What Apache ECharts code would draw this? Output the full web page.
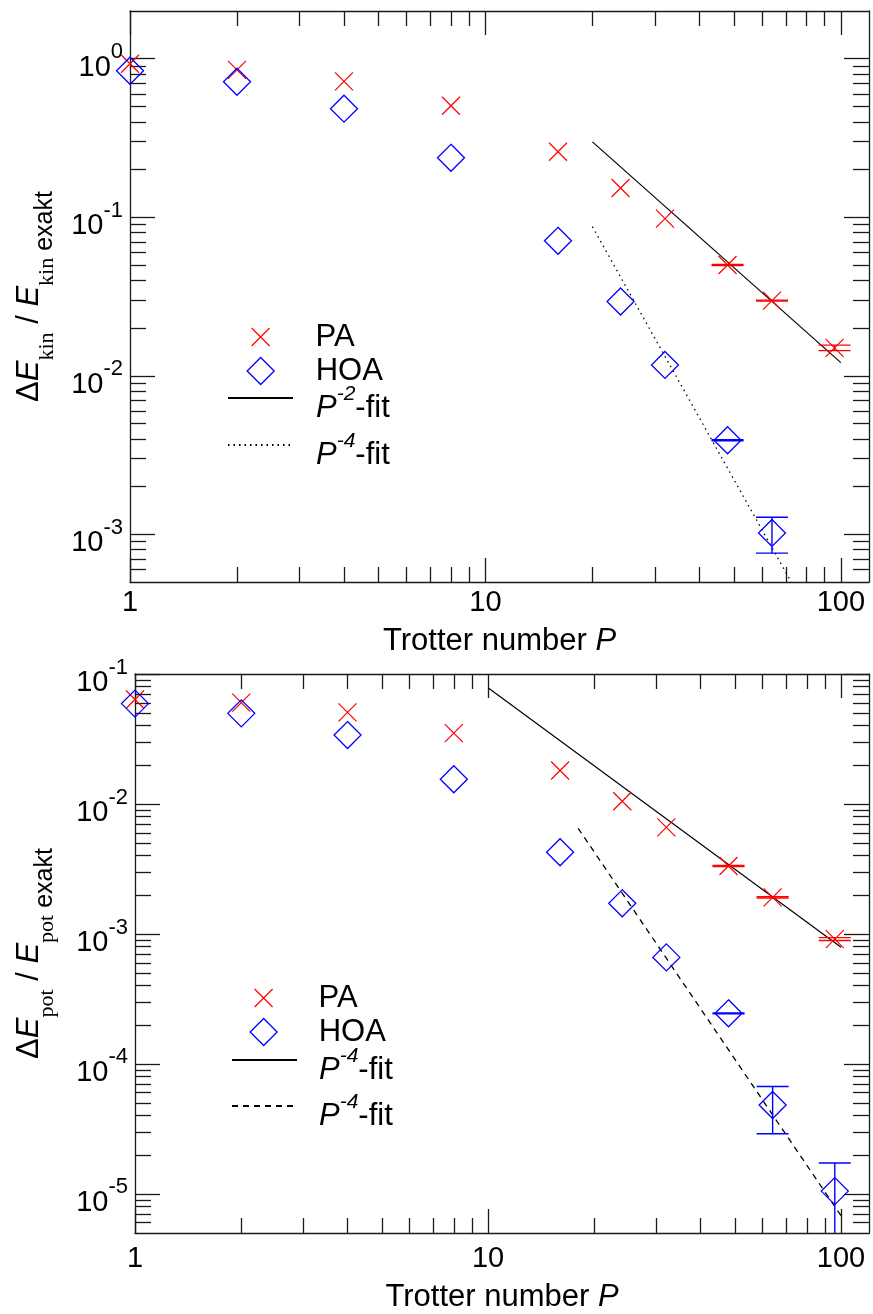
<!DOCTYPE html>
<html><head><meta charset="utf-8">
<script src="https://cdn.jsdelivr.net/npm/echarts@6/dist/echarts.min.js"></script>
<style>html,body{margin:0;padding:0;background:#fff}#c{width:873px;height:1314px}</style>
</head><body><div id="c"></div>
<script>
// ---------- data ----------
const P = [1, 2, 4, 8, 16, 24, 32, 48, 64, 96];
const kinPA  = [0.93, 0.85, 0.72, 0.505, 0.259, 0.153, 0.098, 0.050, 0.0298, 0.0150];
const kinHOA = [0.84, 0.716, 0.484, 0.237, 0.071, 0.0294, 0.0117, 0.00392, 0.00102];
const kinPAErrP  = [48, 64, 96];
const kinPAErrLo = [0.0496, 0.0296, 0.0144];
const kinPAErrHi = [0.0504, 0.0300, 0.0156];
const kinHOAErrP  = [48, 64];
const kinHOAErrLo = [0.00389, 0.00076];
const kinHOAErrHi = [0.00395, 0.00128];
const kinFit2P = [20, 100];
const kinFit2  = [0.299, 0.0121];
const kinFit4P = [20, 72.5];
const kinFit4  = [0.0872, 0.0005];

const potPA  = [0.0636, 0.0603, 0.0507, 0.0351, 0.0181, 0.0105, 0.0066, 0.00333, 0.00191, 0.000913];
const potHOA = [0.0592, 0.0498, 0.0339, 0.0155, 0.00425, 0.00172, 0.00066, 0.000245, 0.0000483, 0.0000105];
const potPAErrP  = [48, 64, 96];
const potPAErrLo = [0.00330, 0.00189, 0.000890];
const potPAErrHi = [0.00336, 0.00193, 0.000936];
const potHOAErrP  = [48, 64, 96];
const potHOAErrLo = [0.000243, 0.000029, 0.0000037];
const potHOAErrHi = [0.000247, 0.000067, 0.0000173];
const potFitAP = [10, 100];
const potFitA  = [0.0783, 0.00079];
const potFitBP = [18, 100];
const potFitB  = [0.0065, 0.0000068];

const xMajor = [1, 10, 100];
const xTickLabels = ['1', '10', '100'];
const kinYExp = [0, -1, -2, -3];
const potYExp = [-1, -2, -3, -4, -5];

// ---------- style ----------
const F = 'Liberation Sans, Arial, Helvetica, sans-serif';
const FS = 'Liberation Serif, Times New Roman, serif';
const AX = '#1a1a1a';
const RED = '#ff0000', BLUE = '#0000ff';
const XPATH = 'path://M0,0L10,10M0,10L10,0';
const X_RANGE = [1, 120];
const KIN_RANGE = [5e-4, 2];
const POT_RANGE = [5e-6, 0.1];

function minorTicks(lo, hi) {
  const out = [];
  for (let e = Math.floor(Math.log10(lo)) - 1; e <= Math.ceil(Math.log10(hi)); e++) {
    for (let m = 2; m <= 9; m++) {
      const v = +(m * Math.pow(10, e)).toPrecision(6);
      if (v > lo * 1.0001 && v < hi * 0.9999) out.push(v);
    }
  }
  return out;
}
const zip = (a, b) => a.map((v, i) => [v, b[i]]);
const zip3 = (a, b, c) => a.map((v, i) => [v, b[i], c[i]]);

const supRich = {
  b: {fontSize: 29, fontFamily: F, color: '#000', verticalAlign: 'bottom'},
  s: {fontSize: 22, fontFamily: F, color: '#000', verticalAlign: 'bottom', padding: [6, 0, 19, 0]}
};
function yLabel(v) { return '{b|10}{s|' + Math.round(Math.log10(v)) + '}'; }
function xLabel(v) {
  for (let i = 0; i < xMajor.length; i++) if (Math.abs(xMajor[i] - v) < 1e-6 * v) return xTickLabels[i];
  return '';
}

function baseAxis(g, pos, range, ticks, len, showLine) {
  return {
    type: 'log', logBase: 10, gridIndex: g, position: pos, min: range[0], max: range[1],
    axisLine: {show: showLine, onZero: false, lineStyle: {color: AX, width: 1.3}},
    axisTick: {show: true, inside: true, length: len, customValues: ticks, lineStyle: {color: AX, width: 1.3}},
    axisLabel: {show: false},
    splitLine: {show: false}, minorTick: {show: false}, minorSplitLine: {show: false},
    axisPointer: {show: false}, silent: true
  };
}

function nameRich() {
  return {
    d: {fontSize: 31, fontFamily: F, color: '#000', verticalAlign: 'top'},
    e: {fontSize: 31, fontFamily: F, fontStyle: 'italic', color: '#000', verticalAlign: 'top'},
    s: {fontSize: 22, fontFamily: FS, color: '#000', verticalAlign: 'top', padding: [22, 0, 0, 0]},
    x: {fontSize: 25, fontFamily: F, color: '#000', verticalAlign: 'top', padding: [19, 0, 0, 0]}
  };
}

function panelAxes(g, yRange, yExp, yName, yGap, xMargin, xGap) {
  const xMinor = minorTicks(X_RANGE[0], X_RANGE[1]);
  const yMajor = yExp.map(e => Math.pow(10, e));
  const yMinor = minorTicks(yRange[0], yRange[1]);
  const xb = baseAxis(g, 'bottom', X_RANGE, xMajor, 24, true);
  xb.axisLabel = {show: true, customValues: xMajor, margin: xMargin, formatter: xLabel,
                  fontSize: 29, fontFamily: F, color: '#000'};
  xb.name = '{a|Trotter number }{i|P}';
  xb.nameLocation = 'middle';
  xb.nameGap = xGap;
  xb.nameTextStyle = {rich: {
    a: {fontSize: 31, fontFamily: F, color: '#000'},
    i: {fontSize: 31, fontFamily: F, fontStyle: 'italic', color: '#000'}}};
  const yl = baseAxis(g, 'left', yRange, yMajor, 25, true);
  yl.axisLabel = {show: true, customValues: yMajor, margin: 7, formatter: yLabel, rich: supRich};
  yl.name = yName;
  yl.nameLocation = 'middle';
  yl.nameRotate = 90;
  yl.nameGap = yGap;
  yl.nameTextStyle = {rich: nameRich()};
  return {
    x: [xb,
        baseAxis(g, 'bottom', X_RANGE, xMinor, 15, false),
        baseAxis(g, 'top', X_RANGE, xMajor, 24, true),
        baseAxis(g, 'top', X_RANGE, xMinor, 15, false)],
    y: [yl,
        baseAxis(g, 'left', yRange, yMinor, 16, false),
        baseAxis(g, 'right', yRange, yMajor, 25, true),
        baseAxis(g, 'right', yRange, yMinor, 16, false)]
  };
}

const ax0 = panelAxes(0, KIN_RANGE, kinYExp,
  '{d|Δ}{e|E}{s|kin}{d| / }{e|E}{s|kin}{x| exakt}', 72, 6, 44);
const ax1 = panelAxes(1, POT_RANGE, potYExp,
  '{d|Δ}{e|E}{s|pot}{d| / }{e|E}{s|pot}{x| exakt}', 77, 11, 49);

function errRender(color) {
  return function (params, api) {
    const x = api.value(0), lo = api.value(1), hi = api.value(2);
    const pL = api.coord([x, lo]), pH = api.coord([x, hi]);
    const w = 16;
    const st = {stroke: color, lineWidth: 1.4};
    return {type: 'group', children: [
      {type: 'line', shape: {x1: pH[0], y1: pH[1], x2: pL[0], y2: pL[1]}, style: st},
      {type: 'line', shape: {x1: pH[0] - w, y1: pH[1], x2: pH[0] + w, y2: pH[1]}, style: st},
      {type: 'line', shape: {x1: pL[0] - w, y1: pL[1], x2: pL[0] + w, y2: pL[1]}, style: st}
    ]};
  };
}

function panelSeries(g, pa, hoa, paErr, hoaErr, fitA, fitAName, fitAType, fitB, fitBName, fitBType) {
  const idx = 4 * g;
  return [
    {type: 'custom', name: 'errPA' + g, xAxisIndex: idx, yAxisIndex: idx, clip: true,
     renderItem: errRender(RED), data: paErr, encode: {x: 0, y: [1, 2]}, silent: true, z: 3},
    {type: 'custom', name: 'errHOA' + g, xAxisIndex: idx, yAxisIndex: idx, clip: true,
     renderItem: errRender(BLUE), data: hoaErr, encode: {x: 0, y: [1, 2]}, silent: true, z: 3},
    {type: 'line', name: fitAName, xAxisIndex: idx, yAxisIndex: idx, data: fitA, symbol: 'none',
     clip: true, lineStyle: {color: '#000', width: 1.2, type: fitAType}, itemStyle: {color: '#000'}, z: 2, silent: true},
    {type: 'line', name: fitBName, xAxisIndex: idx, yAxisIndex: idx, data: fitB, symbol: 'none',
     clip: true, lineStyle: {color: '#000', width: 1.3, type: fitBType}, itemStyle: {color: '#000'}, z: 2, silent: true},
    {type: 'scatter', name: 'PA', xAxisIndex: idx, yAxisIndex: idx, data: pa, symbol: XPATH, symbolSize: 18,
     itemStyle: {color: 'rgba(0,0,0,0)', borderColor: RED, borderWidth: 1.2, opacity: 1}, z: 4, silent: true},
    {type: 'scatter', name: 'HOA', xAxisIndex: idx, yAxisIndex: idx, data: hoa, symbol: 'diamond', symbolSize: 27,
     itemStyle: {color: 'rgba(0,0,0,0)', borderColor: BLUE, borderWidth: 1.3, opacity: 1}, z: 4, silent: true}
  ];
}

const series = [].concat(
  panelSeries(0, zip(P, kinPA), zip(P.slice(0, kinHOA.length), kinHOA),
    zip3(kinPAErrP, kinPAErrLo, kinPAErrHi), zip3(kinHOAErrP, kinHOAErrLo, kinHOAErrHi),
    zip(kinFit2P, kinFit2), 'fitK2', 'solid', zip(kinFit4P, kinFit4), 'fitK4', [1.5, 4]),
  panelSeries(1, zip(P, potPA), zip(P, potHOA),
    zip3(potPAErrP, potPAErrLo, potPAErrHi), zip3(potHOAErrP, potHOAErrLo, potHOAErrHi),
    zip(potFitAP, potFitA), 'fitP4a', 'solid', zip(potFitBP, potFitB), 'fitP4b', [6, 5])
);

const legendText = {
  PA: '{n|PA}', HOA: '{n|HOA}',
  fitK2: '{i|P}{s|-2}{t|-fit}', fitK4: '{i|P}{s|-4}{t|-fit}',
  fitP4a: '{i|P}{s|-4}{t|-fit}', fitP4b: '{i|P}{s|-4}{t|-fit}'
};
const legRich = {
  n: {fontSize: 31, fontFamily: F, color: '#000'},
  i: {fontSize: 31, fontFamily: F, fontStyle: 'italic', color: '#000', verticalAlign: 'bottom'},
  s: {fontSize: 21, fontFamily: F, fontStyle: 'italic', color: '#000', verticalAlign: 'bottom', padding: [12, 0, 19, 0]},
  t: {fontSize: 31, fontFamily: F, color: '#000', verticalAlign: 'bottom'}
};
// cx: icon centre x, cy: icon centre y, tx: text left x
function leg(cx, cy, tx, item, iconW, iconH, blockH) {
  const left = cx - iconW / 2;
  return {
    left: left, top: cy - blockH / 2, padding: 0, orient: 'vertical', selectedMode: false,
    itemWidth: iconW, itemHeight: iconH, data: [item],
    formatter: name => legendText[name],
    textStyle: {rich: legRich, padding: [0, 0, 0, tx - (left + iconW + 5)]}
  };
}
const noSym = {color: 'rgba(0,0,0,0)', borderWidth: 0, borderColor: 'rgba(0,0,0,0)'};
const paIcon = {color: 'rgba(0,0,0,0)', borderColor: RED, borderWidth: 1.2};
const hoaIcon = {color: 'rgba(0,0,0,0)', borderColor: BLUE, borderWidth: 1.3};
const legends = [
  leg(260, 337, 315, {name: 'PA', icon: XPATH, itemStyle: paIcon}, 18, 18, 31),
  leg(260, 371, 315, {name: 'HOA', icon: 'diamond', itemStyle: hoaIcon}, 27, 27, 31),
  leg(259.5, 410, 315, {name: 'fitK2', itemStyle: noSym}, 65, 14, 52),
  leg(259.5, 457, 315, {name: 'fitK4', itemStyle: noSym}, 65, 14, 52),
  leg(263, 998, 318, {name: 'PA', icon: XPATH, itemStyle: paIcon}, 18, 18, 31),
  leg(263, 1032, 318, {name: 'HOA', icon: 'diamond', itemStyle: hoaIcon}, 27, 27, 31),
  leg(263.5, 1072, 318, {name: 'fitP4a', itemStyle: noSym}, 65, 14, 52),
  leg(263.5, 1118, 318, {name: 'fitP4b', itemStyle: noSym}, 65, 14, 52)
];

const chart = echarts.init(document.getElementById('c'), null, {renderer: 'canvas'});
chart.setOption({
  animation: false,
  backgroundColor: '#fff',
  grid: [
    {left: 130, top: 11, width: 739, height: 571, containLabel: false},
    {left: 135, top: 674, width: 734, height: 569, containLabel: false}
  ],
  xAxis: ax0.x.concat(ax1.x),
  yAxis: ax0.y.concat(ax1.y),
  legend: legends,
  series: series
});
</script>
</body></html>
